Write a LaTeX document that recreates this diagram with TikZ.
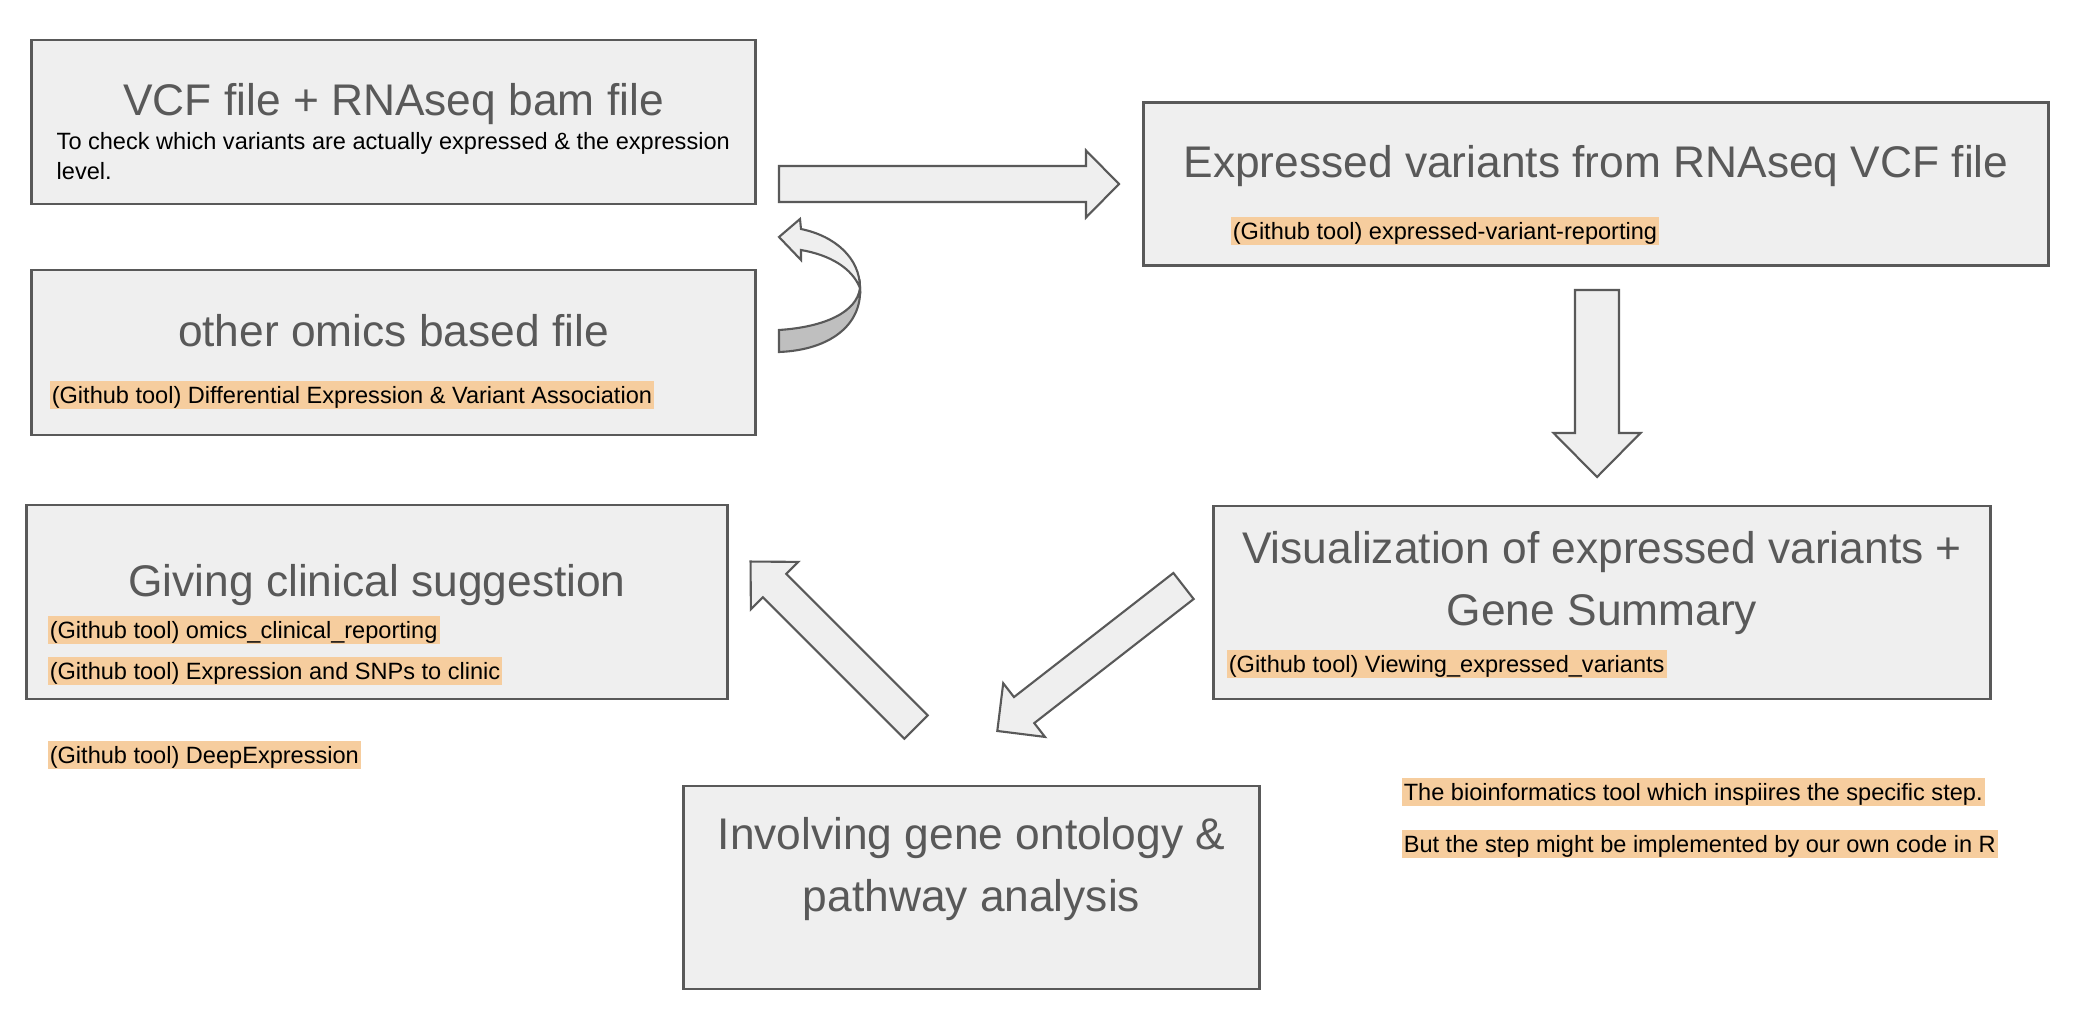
\documentclass[tikz,border=0pt]{standalone}
\usepackage{fontspec}
\setmainfont{Liberation Sans}
\definecolor{boxgray}{HTML}{EFEFEF}
\definecolor{linegray}{HTML}{595959}
\definecolor{shadegray}{HTML}{BFBFBF}
\definecolor{toolorange}{HTML}{F6CD9E}
% block arrow: tail x, tail y, angle, length, shaft width, head width, head length
\newcommand{\blockarrow}[7]{%
  \draw[arrowbody, shift={(#1,#2)}, rotate=#3] (0,-#5/2) -- (#4-#7,-#5/2) -- (#4-#7,-#6/2) -- (#4,0)
    -- (#4-#7,#6/2) -- (#4-#7,#5/2) -- (0,#5/2) -- cycle;}
\begin{document}
\begin{tikzpicture}[x=0.01cm,y=-0.01cm]
\tikzset{stepbox/.style={rectangle,draw=linegray,fill=boxgray,line width=0.8pt,inner sep=0pt},
  boxtitle/.style={text=linegray,font=\fontsize{12.6}{17.4}\selectfont,inner sep=0pt,align=center,anchor=base},
  toolnote/.style={fill=toolorange,text=black,font=\fontsize{6.7}{8.25}\selectfont,inner xsep=0.6pt,inner ysep=0pt,
    text height=6.4pt,text depth=1.6pt,anchor=north west},
  arrowbody/.style={draw=linegray,fill=boxgray,line width=0.6pt,line join=miter}}

\useasboundingbox (0,0) rectangle (2088,1024);

  \draw (393.5,122) node[stepbox,minimum width=7.23cm,minimum height=1.64cm](vcfbox) {};
  \draw (393.5,352.5) node[stepbox,minimum width=7.23cm,minimum height=1.65cm](omicsbox) {};
  \draw (1596,184) node[stepbox,minimum width=9.05cm,minimum height=1.63cm](exprbox) {};
  \draw (1602,602.5) node[stepbox,minimum width=7.76cm,minimum height=1.93cm](visbox) {};
  \draw (377,602) node[stepbox,minimum width=7.01cm,minimum height=1.94cm](clinbox) {};
  \draw (971.5,887.5) node[stepbox,minimum width=5.75cm,minimum height=2.03cm](gobox) {};

  % multi-line texts sit on the baseline of their last line
  \draw (393.5,115) node[boxtitle](vcftitle) {VCF file + RNAseq bam file};
  \draw (56,179) node[anchor=base west,inner sep=0pt,align=left,font=\fontsize{6.7}{8.25}\selectfont](vcfnote)
    {To check which variants are actually expressed \& the expression\\level.};
  \draw (393.5,346) node[boxtitle](omicstitle) {other omics based file};
  \draw (1596,177) node[boxtitle](exprtitle) {Expressed variants from RNAseq VCF file};
  \draw (1602,625) node[boxtitle](vistitle) {Visualization of expressed variants +\\Gene Summary};
  \draw (377,596) node[boxtitle](clintitle) {Giving clinical suggestion};
  \draw (971.5,911) node[boxtitle](gotitle) {Involving gene ontology \&\\pathway analysis};

  \draw (49,380) node[toolnote](omicstool) {(Github tool) Differential Expression \& Variant Association};
  \draw (1230,216) node[toolnote](exprtool) {(Github tool) expressed-variant-reporting};
  \draw (1226,649) node[toolnote](vistool) {(Github tool) Viewing\_expressed\_variants};
  \draw (47,615) node[toolnote](clintoola) {(Github tool) omics\_clinical\_reporting};
  \draw (47,656) node[toolnote](clintoolb) {(Github tool) Expression and SNPs to clinic};
  \draw (47,740) node[toolnote](deeptool) {(Github tool) DeepExpression};
  \draw (1401,777) node[toolnote](legenda) {The bioinformatics tool which inspiires the specific step.};
  \draw (1401,829) node[toolnote](legendb) {But the step might be implemented by our own code in R};

	\blockarrow{779}{184}{0}{340}{36}{67}{33}
	\blockarrow{1597}{290}{-90}{187}{44}{87}{44}
	\blockarrow{1183.5}{586}{217.9}{236}{33}{68}{34}
	\blockarrow{916}{727}{135}{234}{33}{67}{34}

	% curved arrow back to the VCF box
	\draw[arrowbody,fill=shadegray] (779,330) .. controls (825,327) and (857,312) .. (860,288)
	  .. controls (862,325) and (830,350) .. (779,352) -- cycle;
	\draw[arrowbody] (801,229) .. controls (835,236) and (860,258) .. (860,288)
	  .. controls (852,268) and (830,255) .. (801,250) -- (801,260) -- (779,237) -- (800,219) -- cycle;
\end{tikzpicture}
\end{document}
